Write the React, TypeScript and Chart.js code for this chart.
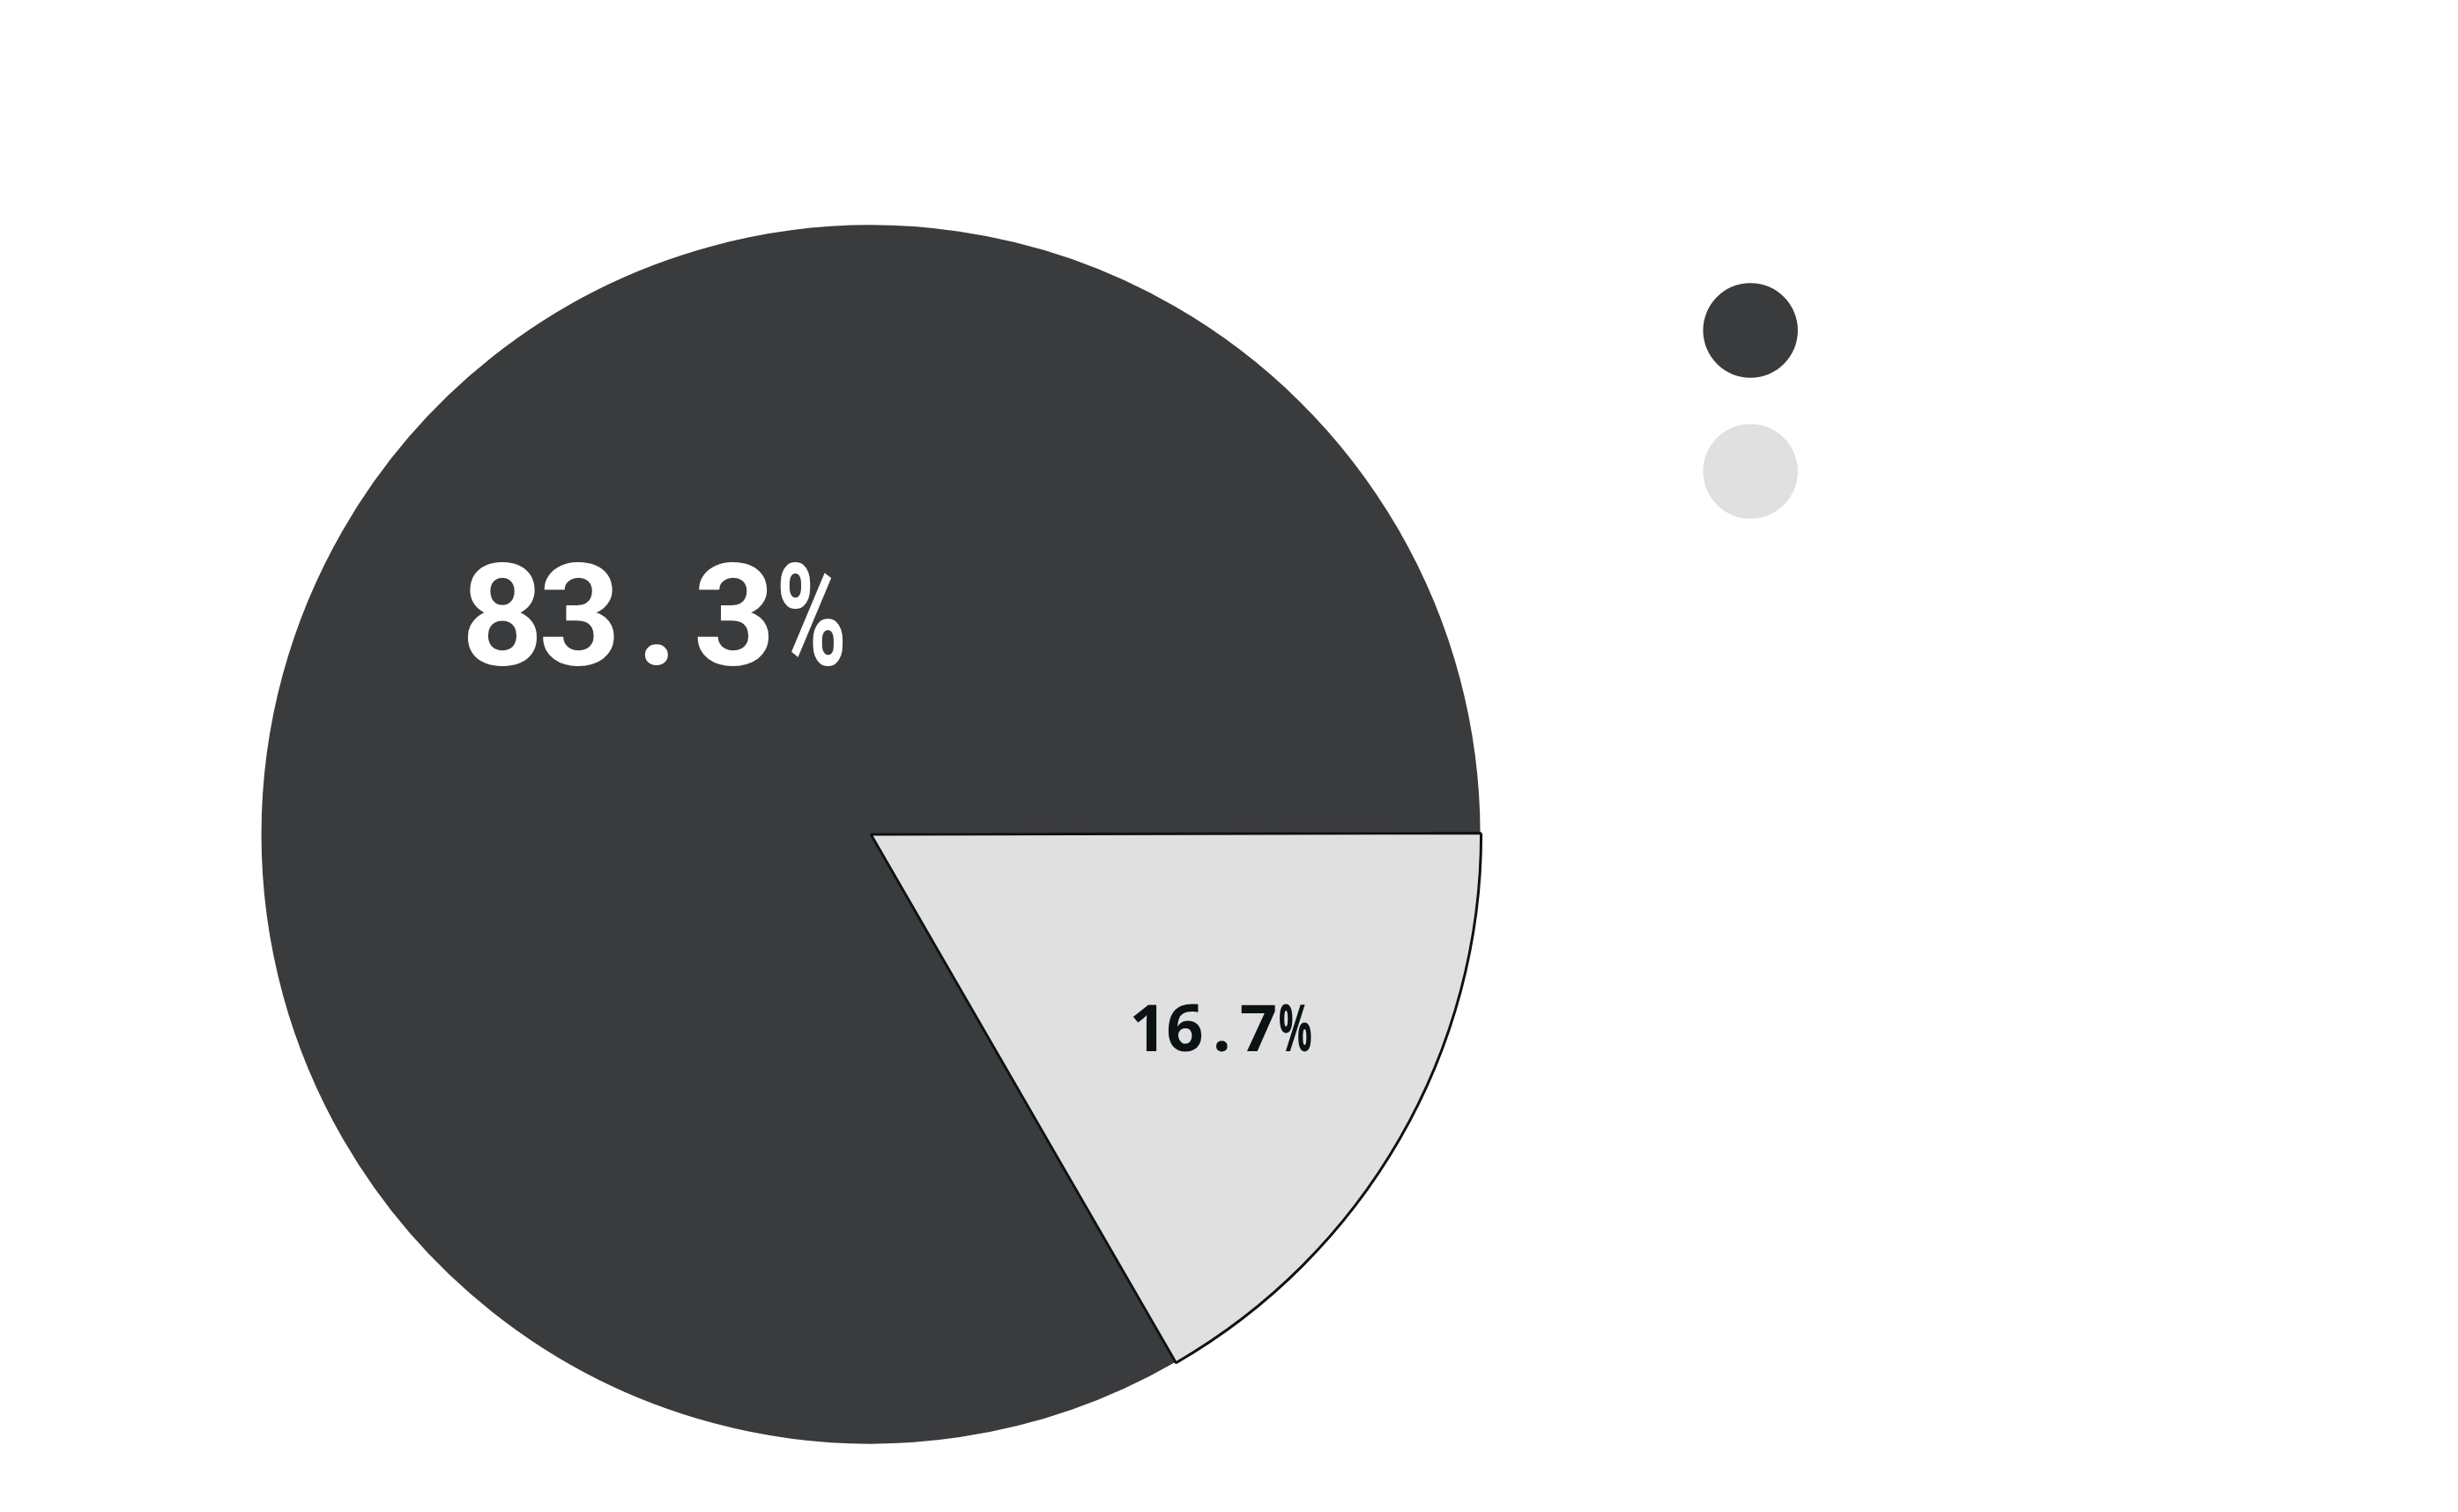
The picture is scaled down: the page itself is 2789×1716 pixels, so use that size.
import React, { useEffect, useRef } from "react";
import { Chart, registerables } from "chart.js";

Chart.register(...registerables);

const categories = ["paper/binders", "spreadsheets"];
const values = [83.3, 16.7];
const valueLabels = ["83.3%", "16.7%"];
const sliceColors = ["#3a3b3d", "#e0e0e0"];
const sliceBorderColors = ["#ffffff", "#0c1314"];
const sliceBorderWidths = [2, 3];
const labelColors = ["#ffffff", "#0a1214"];
const labelFonts = [
  "bold 162px Roboto, Inter, 'Noto Sans', 'DejaVu Sans', sans-serif",
  "bold 74px 'Open Sans', 'Noto Sans', 'DejaVu Sans', sans-serif",
];
const labelCapHeights = [115, 52];
const labelCells = [87.75, 41.75];
const labelPercentMax = [80, 38];
const labelAngleShift = [16, -1];
const labelRadiusFrac = [0.504, 0.657];

const sliceLabelPlugin = {
  id: "sliceLabels",
  afterDatasetsDraw(chart: any) {
    const meta = chart.getDatasetMeta(0);
    const ctx = chart.ctx;
    meta.data.forEach((arc: any, i: number) => {
      const p = arc.getProps(["x", "y", "startAngle", "endAngle", "outerRadius"], true);
      const a = (p.startAngle + p.endAngle) / 2 + (labelAngleShift[i] * Math.PI) / 180;
      const r = p.outerRadius * labelRadiusFrac[i];
      const cx = p.x + Math.cos(a) * r;
      const cy = p.y + Math.sin(a) * r;
      const text = valueLabels[i];
      const cell = labelCells[i];
      ctx.save();
      ctx.font = labelFonts[i];
      ctx.fillStyle = labelColors[i];
      ctx.textAlign = "center";
      ctx.textBaseline = "alphabetic";
      const startX = cx - ((text.length - 1) * cell) / 2;
      const baseY = cy + labelCapHeights[i] / 2;
      for (let k = 0; k < text.length; k++) {
        const ch = text[k];
        if (ch === "%") ctx.fillText(ch, startX + k * cell, baseY, labelPercentMax[i]);
        else ctx.fillText(ch, startX + k * cell, baseY);
      }
      ctx.restore();
    });
  },
};

export default function App() {
  const ref = useRef<HTMLCanvasElement | null>(null);
  useEffect(() => {
    let chart: any = null;
    let cancelled = false;
    const fontsReady = Promise.all([
      document.fonts.load("bold 162px Roboto"),
      document.fonts.load("bold 74px 'Open Sans'"),
      document.fonts.load("76px 'DejaVu Sans Mono'"),
    ]).catch(() => null);
    fontsReady.then(() => {
      if (cancelled || !ref.current) return;
      const baseGen = (Chart as any).overrides.doughnut.plugins.legend.labels.generateLabels;
      chart = new Chart(ref.current, {
        type: "pie",
        data: {
          labels: categories,
          datasets: [
            {
              data: values,
              backgroundColor: sliceColors,
              borderColor: sliceBorderColors,
              borderWidth: sliceBorderWidths,
            },
          ],
        },
        options: {
          responsive: false,
          animation: false,
          devicePixelRatio: 1,
          rotation: 150,
          layout: { padding: { left: 86, top: 245, bottom: 67, right: 132 } },
          plugins: {
            tooltip: { enabled: false },
            legend: {
              position: "right",
              align: "start",
              labels: {
                usePointStyle: true,
                pointStyle: "circle",
                padding: 84,
                color: "#ffffff",
                font: { family: "'DejaVu Sans Mono', monospace", size: 76 },
                generateLabels: (c: any) =>
                  baseGen(c).map((it: any) => ({ ...it, lineWidth: 0, strokeStyle: "rgba(0,0,0,0)" })),
              },
            },
          },
        } as any,
        plugins: [sliceLabelPlugin],
      });
    });
    return () => {
      cancelled = true;
      if (chart) chart.destroy();
    };
  }, []);
  return (
    <canvas
      ref={ref}
      width={2773}
      height={1700}
      style={{ display: "block", width: "2773px", height: "1700px" }}
    />
  );
}
